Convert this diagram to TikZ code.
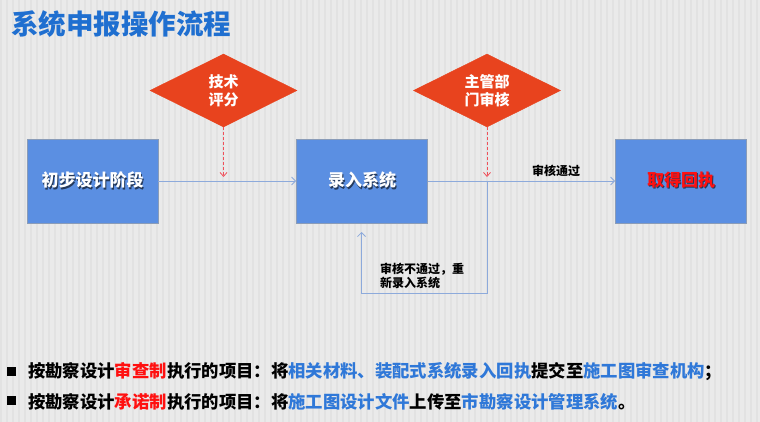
\documentclass[tikz,border=0pt]{standalone}
\usepackage{fontspec}
\setmainfont{Noto Sans CJK SC}
\usetikzlibrary{shapes.geometric,arrows.meta}
\definecolor{bg}{HTML}{EAEAEA}
\definecolor{bgstripe}{HTML}{E2E2E2}
\definecolor{titleblue}{HTML}{1F6FD0}
\definecolor{boxblue}{HTML}{5B8FE2}
\definecolor{boxedge}{HTML}{8A9CB8}
\definecolor{dred}{HTML}{E8431E}
\definecolor{arrred}{HTML}{F0505A}
\definecolor{lineblue}{HTML}{8DAADB}
\definecolor{txtred}{HTML}{FF1010}
\definecolor{txtblue}{HTML}{2F78D8}
\newcommand\shtxt[2]{\rlap{\kern1.2pt\raisebox{-1.2pt}{\textcolor{black!60!boxblue}{#2}}}\textcolor{#1}{#2}}
\begin{document}
\begin{tikzpicture}[x=1pt,y=-1pt,
  stepbox/.style={draw=boxedge, line width=0.8pt, fill=boxblue, minimum width=131pt, minimum height=84pt, inner sep=0, font=\bfseries\fontsize{17}{20}\selectfont},
  dia/.style={diamond, fill=dred, draw=dred, minimum width=147pt, minimum height=73pt, aspect=2, inner sep=0, text=white, font=\bfseries\fontsize{15}{18}\selectfont, align=center},
  conn/.style={draw=lineblue, line width=0.8pt, -{Straight Barb[length=4pt,width=8pt]}},
  redarrow/.style={draw=arrred, line width=0.8pt, dash pattern=on 3pt off 2pt, -{Straight Barb[length=4pt,width=7pt]}},
  lbl/.style={font=\bfseries\fontsize{12}{14}\selectfont, text=black, inner sep=0},
  bullettxt/.style={anchor=west, inner sep=0, font=\bfseries\fontsize{17.35}{20}\selectfont},
  bulletsq/.style={fill=black, minimum size=9pt, inner sep=0}
]
\useasboundingbox (0,0) rectangle (760,422);
\fill[bg] (0,0) rectangle (760,422);
\foreach \i in {0,6,...,756} {\fill[bgstripe] (\i,0) rectangle ++(1.5,422);}

\node[anchor=west, font=\bfseries\fontsize{27.5}{30}\selectfont, text=titleblue, inner sep=0] (title) at (11,24) {系统申报操作流程};

\node[stepbox] (b1) at (92.5,181) {\shtxt{white}{初步设计阶段}};
\node[stepbox] (b2) at (362,181) {\shtxt{white}{录入系统}};
\node[stepbox] (b3) at (681,181) {\shtxt{txtred}{取得回执}};

\node[dia] (d1) at (223.5,90.5) {技术\\评分};
\node[dia] (d2) at (487,90.5) {主管部\\门审核};

\coordinate (t1) at (223.5,177);
\coordinate (t2) at (487,177);
\draw[redarrow] (d1.south) -- (t1);
\draw[redarrow] (d2.south) -- (t2);

\draw[conn] (b1.east) -- (b2.west);
\draw[conn] (b2.east) -- (b3.west);
\coordinate (j) at (487,181);
\coordinate (c1) at (487,293);
\coordinate (c2) at (361.5,232);
\draw[conn] (j) -- (c1) -| (c2);

\node[lbl] (l1) at (556,171) {审核通过};
\node[lbl, anchor=west, align=left] (l2) at (380,276) {审核不通过，重\\新录入系统};

\node[bulletsq] (s1) at (11.5,371) {};
\node[bulletsq] (s2) at (11.5,400.5) {};
\node[bullettxt] (p1) at (28,372) {按勘察设计\textcolor{txtred}{审查制}执行的项目：将\textcolor{txtblue}{相关材料、装配式系统录入回执}提交至\textcolor{txtblue}{施工图审查机构}；};
\node[bullettxt] (p2) at (28,402) {按勘察设计\textcolor{txtred}{承诺制}执行的项目：将\textcolor{txtblue}{施工图设计文件}上传至\textcolor{txtblue}{市勘察设计管理系统}。};
\end{tikzpicture}
\end{document}
